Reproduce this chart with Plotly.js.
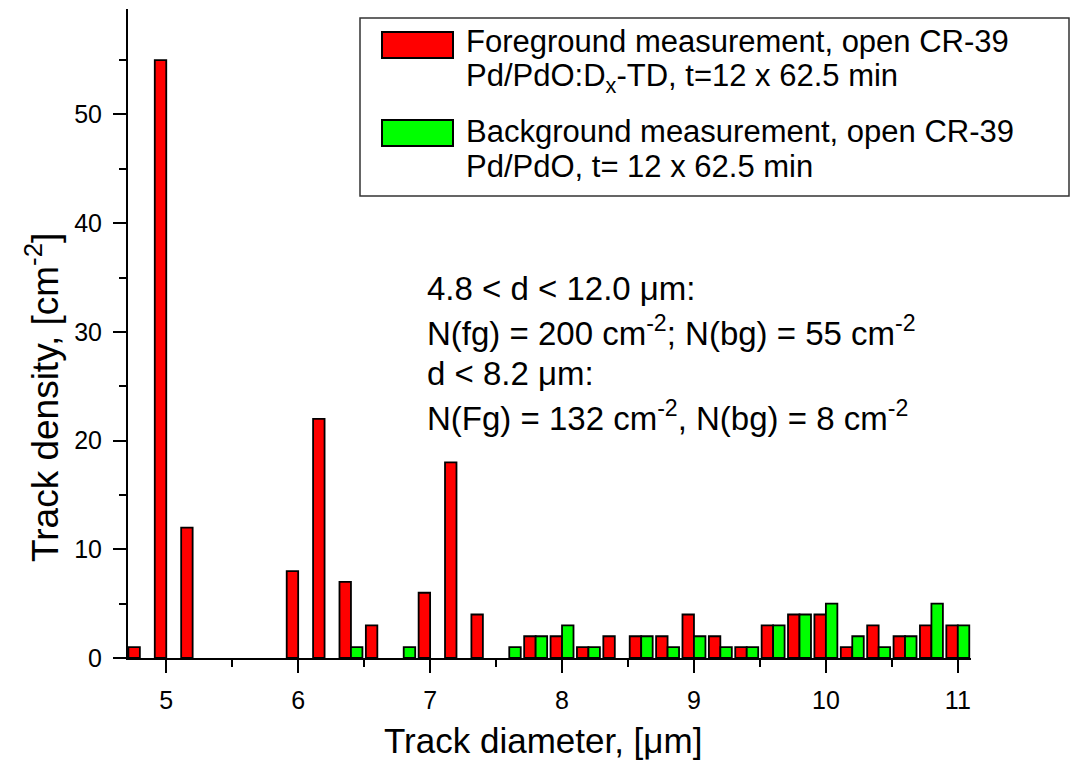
<!DOCTYPE html>
<html>
<head>
<meta charset="utf-8">
<script src="https://cdn.plot.ly/plotly-3.0.1.min.js"></script>
<style>html,body{margin:0;padding:0;background:#fff;}#chart{width:1088px;height:760px;}</style>
</head>
<body>
<div id="chart"></div>
<script>
// ---- data ----
const diameters = [4.8,5.0,5.2,5.4,5.6,5.8,6.0,6.2,6.4,6.6,6.8,7.0,7.2,7.4,7.6,7.8,8.0,8.2,8.4,8.6,8.8,9.0,9.2,9.4,9.6,9.8,10.0,10.2,10.4,10.6,10.8,11.0];
const foreground = [1,55,12,0,0,0,8,22,7,3,0,6,18,4,0,2,2,1,2,2,2,4,2,1,3,4,4,1,3,2,3,3];
const background = [0,0,0,0,0,0,0,0,1,0,1,0,0,0,1,2,3,1,0,2,1,2,1,1,3,4,5,2,1,2,5,3];
const seriesNames = ["Foreground measurement, open CR-39", "Background measurement, open CR-39"];
const legendSecondLines = ["Pd/PdO:D<sub>x</sub>-TD, t=12 x 62.5 min", "Pd/PdO, t= 12 x 62.5 min"];
const noteLines = [
  "4.8 < d < 12.0 μm:",
  "N(fg) = 200 cm<sup>-2</sup>; N(bg) = 55 cm<sup>-2</sup>",
  "d < 8.2 μm:",
  "N(Fg) = 132 cm<sup>-2</sup>, N(bg) = 8 cm<sup>-2</sup>"
];
const xTitle = "Track diameter, [μm]";
const yTitle = "Track density, [cm<sup>-2</sup>]";

// ---- layout helpers (pixel -> paper) ----
const W = 1088, H = 760, L = 128, R = 117, T = 9, B = 102;
const pw = W - L - R, ph = H - T - B;
const px = x => (x - L) / pw;
const py = y => (H - B - y) / ph;
const FONT = "Liberation Sans, Arial, Helvetica, sans-serif";
const colors = ["#ff0000", "#00ff00"];

const traces = [foreground, background].map((vals, i) => ({
  type: "bar",
  x: diameters,
  y: vals,
  name: seriesNames[i],
  marker: {color: colors[i], line: {color: "#000", width: vals.map(v => v === 0 ? 0 : 1.8)}},
  showlegend: false,
  hoverinfo: "x+y"
}));

const shapes = [
  {type: "rect", xref: "paper", yref: "paper", x0: px(360), x1: px(1069), y0: py(196), y1: py(18),
   line: {color: "#333", width: 1.5}, fillcolor: "rgba(0,0,0,0)"},
  {type: "rect", xref: "paper", yref: "paper", x0: px(382), x1: px(453), y0: py(58), y1: py(32),
   line: {color: "#000", width: 2}, fillcolor: colors[0]},
  {type: "rect", xref: "paper", yref: "paper", x0: px(382), x1: px(453), y0: py(146), y1: py(120),
   line: {color: "#000", width: 2}, fillcolor: colors[1]}
];

const annotations = [];
const legendY = [[42, 78], [131, 167]];
for (let i = 0; i < 2; i++) {
  annotations.push({xref: "paper", yref: "paper", x: px(464), y: py(legendY[i][0]), xanchor: "left", yanchor: "middle",
    text: seriesNames[i], showarrow: false, font: {family: FONT, size: 31, color: "#000"}});
  annotations.push({xref: "paper", yref: "paper", x: px(464), y: py(legendY[i][1]), xanchor: "left", yanchor: "middle",
    text: legendSecondLines[i], showarrow: false, font: {family: FONT, size: 31, color: "#000"}});
}
const noteY = [288, 330.5, 373, 415.5];
noteLines.forEach((t, i) => annotations.push({xref: "paper", yref: "paper", x: px(425), y: py(noteY[i]),
  xanchor: "left", yanchor: "middle", text: t, showarrow: false, font: {family: FONT, size: 33, color: "#000"}}));
// axis titles
annotations.push({xref: "paper", yref: "paper", x: px(543), y: py(741), xanchor: "center", yanchor: "middle",
  text: xTitle, showarrow: false, font: {family: FONT, size: 35, color: "#000"}});
annotations.push({xref: "paper", yref: "paper", x: px(42), y: py(398), xanchor: "center", yanchor: "middle",
  textangle: -90, text: yTitle, showarrow: false, font: {family: FONT, size: 37, color: "#000"}});

const axisCommon = {
  showline: true, linecolor: "#000", linewidth: 2, showgrid: false, zeroline: false,
  ticks: "outside", ticklen: 13, tickwidth: 2, tickcolor: "#000",
  tickfont: {family: FONT, size: 25, color: "#000"},
  ticklabelstandoff: 6
};

const layout = {
  width: W, height: H,
  margin: {l: L, r: R, t: T, b: B, pad: 0},
  paper_bgcolor: "#fff", plot_bgcolor: "#fff",
  barmode: "group", bargap: 0.13, bargroupgap: 0,
  font: {family: FONT, color: "#000"},
  xaxis: Object.assign({}, axisCommon, {
    range: [4.71, 11.10], tick0: 5, dtick: 1,
    minor: {dtick: 0.5, ticks: "outside", ticklen: 7, tickwidth: 2, tickcolor: "#000"}
  }),
  yaxis: Object.assign({}, axisCommon, {
    range: [0, 59.7], tick0: 0, dtick: 10,
    minor: {dtick: 5, ticks: "outside", ticklen: 7, tickwidth: 2, tickcolor: "#000"}
  }),
  shapes: shapes,
  annotations: annotations
};

Plotly.newPlot("chart", traces, layout, {displayModeBar: false, staticPlot: true});
</script>
</body>
</html>
